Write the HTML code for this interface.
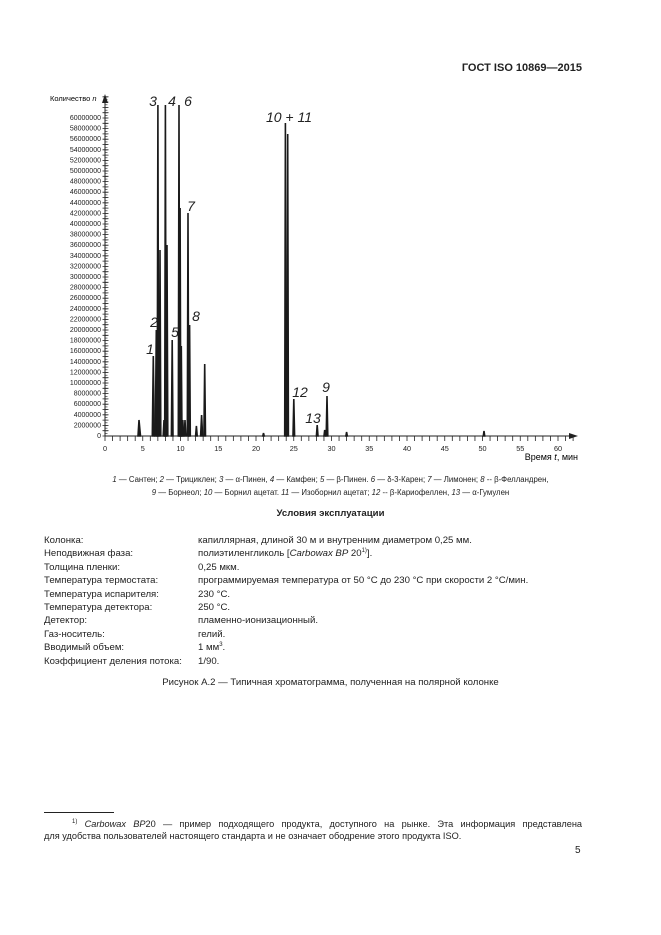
<!DOCTYPE html>
<html><head><meta charset="utf-8"><style>
body{margin:0;background:#fff;}
.p{position:relative;width:661px;height:935px;font-family:"Liberation Sans",sans-serif;color:#222;overflow:hidden}
.a{position:absolute;white-space:nowrap}
.r{font-size:9.6px;line-height:13.4px}
</style></head><body><div class="p">
<div class="a" style="right:79px;top:62px;font-size:11px;font-weight:bold">ГОСТ ISO 10869—2015</div>
<svg class="a" style="left:0;top:0" width="661" height="470" font-family="Liberation Sans, sans-serif">
<g stroke="#222" stroke-width="1" fill="none">
<line x1="105" y1="436" x2="105" y2="100"/>
<line x1="105" y1="436" x2="572" y2="436"/>
</g>
<line x1="105.5" y1="436.4" x2="105.5" y2="96" stroke="#222" stroke-width="6" stroke-dasharray="0.8 4.5"/>
<line x1="106" y1="433.75" x2="106" y2="96" stroke="#222" stroke-width="3" stroke-dasharray="0.6 2.05"/>
<line x1="104.6" y1="438.5" x2="575" y2="438.5" stroke="#222" stroke-width="5" stroke-dasharray="0.8 6.75"/>
<polygon points="105,94 102,103 108,103" fill="#222"/>
<polygon points="578,436 569,433 569,439" fill="#222"/>
<text x="50" y="101" font-size="7.5">Количество <tspan font-style="italic">n</tspan></text>
<g font-size="7" text-anchor="end" fill="#222">
<text x="101" y="438">0</text><text x="101" y="427.4">2000000</text><text x="101" y="416.8">4000000</text><text x="101" y="406.2">6000000</text><text x="101" y="395.6">8000000</text><text x="101" y="385">10000000</text><text x="101" y="374.4">12000000</text><text x="101" y="363.8">14000000</text><text x="101" y="353.2">16000000</text><text x="101" y="342.6">18000000</text><text x="101" y="332">20000000</text><text x="101" y="321.4">22000000</text><text x="101" y="310.8">24000000</text><text x="101" y="300.2">26000000</text><text x="101" y="289.6">28000000</text><text x="101" y="279">30000000</text><text x="101" y="268.4">32000000</text><text x="101" y="257.8">34000000</text><text x="101" y="247.2">36000000</text><text x="101" y="236.6">38000000</text><text x="101" y="226">40000000</text><text x="101" y="215.4">42000000</text><text x="101" y="204.8">44000000</text><text x="101" y="194.2">46000000</text><text x="101" y="183.6">48000000</text><text x="101" y="173">50000000</text><text x="101" y="162.4">52000000</text><text x="101" y="151.8">54000000</text><text x="101" y="141.2">56000000</text><text x="101" y="130.6">58000000</text><text x="101" y="120">60000000</text>
</g>
<g font-size="7.3" text-anchor="middle" fill="#222">
<text x="105" y="451">0</text><text x="142.75" y="451">5</text><text x="180.5" y="451">10</text><text x="218.25" y="451">15</text><text x="256" y="451">20</text><text x="293.75" y="451">25</text><text x="331.5" y="451">30</text><text x="369.25" y="451">35</text><text x="407" y="451">40</text><text x="444.75" y="451">45</text><text x="482.5" y="451">50</text><text x="520.25" y="451">55</text><text x="558" y="451">60</text>
</g>
<text x="578" y="460" font-size="9" text-anchor="end">Время <tspan font-style="italic">t</tspan>, мин</text>
<g stroke="#1a1a1a" stroke-width="1.6" fill="#1a1a1a">
<path d="M138,436L139,420L140.5,436Z"/>
<path d="M152.3,436L153.3,356L154.3,436Z"/>
<path d="M155.3,436L156.3,330L157.3,436Z"/>
<path d="M157.2,436L157.9,105L158.6,436Z"/>
<path d="M159.3,436L160,250L160.8,436Z"/>
<path d="M163.2,436L164,420L164.8,436Z"/>
<path d="M164.7,436L165.4,105L166.1,436Z"/>
<path d="M166.3,436L167,245L167.8,436Z"/>
<path d="M171.4,436L172.2,340L173,436Z"/>
<path d="M178.3,436L179,105L179.7,436Z"/>
<path d="M179.5,436L180.1,208L180.8,436Z"/>
<path d="M180.7,436L181.3,346L182,436Z"/>
<path d="M182,436L182.8,420L183.6,436Z"/>
<path d="M184.2,436L185,420L185.8,436Z"/>
<path d="M187.3,436L188,213L188.7,436Z"/>
<path d="M188.9,436L189.6,325L190.3,436Z"/>
<path d="M195.6,436L196.4,426L197.2,436Z"/>
<path d="M200.6,436L201.6,415L202.6,436Z"/>
<path d="M203.9,436L204.7,364L205.5,436Z"/>
<path d="M284.7,436L285.4,123L286.1,436Z"/>
<path d="M287,436L287.7,134L288.4,436Z"/>
<path d="M293,436L293.8,399L294.6,436Z"/>
<path d="M316.4,436L317.2,425L318,436Z"/>
<path d="M324,436L324.7,430L325.4,436Z"/>
<path d="M326.2,436L327,396L327.8,436Z"/>
<path d="M262.8,436L263.5,433L264.2,436Z"/>
<path d="M345.9,436L346.6,432L347.3,436Z"/>
<path d="M483.3,436L484,431L484.7,436Z"/>
</g>
<g font-size="14" font-style="italic" fill="#222" text-anchor="middle">
<text x="153" y="106">3</text><text x="172" y="106">4</text><text x="188" y="106">6</text>
<text x="191" y="211">7</text><text x="150" y="354">1</text><text x="154" y="327">2</text>
<text x="175" y="337">5</text><text x="196" y="321">8</text><text x="289" y="122">10 + 11</text>
<text x="300" y="397">12</text><text x="313" y="423">13</text><text x="326" y="392">9</text>
</g>
</svg>
<div class="a" style="left:0;width:661px;text-align:center;top:474px;font-size:7.8px;line-height:12.5px"><i>1</i> — Сантен; <i>2</i> — Трициклен; <i>3</i> — α-Пинен, <i>4</i> — Камфен; <i>5</i> — β-Пинен. <i>6</i> — δ-3-Карен; <i>7</i> — Лимонен; <i>8</i> -- β-Фелландрен,<br><i>9</i> — Борнеол; <i>10</i> — Борнил ацетат. <i>11</i> — Изоборнил ацетат; <i>12</i> -- β-Кариофеллен, <i>13</i> — α-Гумулен</div>
<div class="a" style="left:0;width:661px;text-align:center;top:508px;font-size:9.6px;font-weight:bold">Условия эксплуатации</div>
<div class="a r" style="left:44px;top:534px">Колонка:<br>Неподвижная фаза:<br>Толщина пленки:<br>Температура термостата:<br>Температура испарителя:<br>Температура детектора:<br>Детектор:<br>Газ-носитель:<br>Вводимый объем:<br>Коэффициент деления потока:</div>
<div class="a r" style="left:198px;top:534px">капиллярная, длиной 30 м и внутренним диаметром 0,25 мм.<br>полиэтиленгликоль [<i>Carbowax BP</i> 20<sup style="font-size:6px;line-height:0">1)</sup>].<br>0,25 мкм.<br>программируемая температура от 50 °С до 230 °С при скорости 2 °С/мин.<br>230 °С.<br>250 °С.<br>пламенно-ионизационный.<br>гелий.<br>1 мм<sup style="font-size:6px;line-height:0">3</sup>.<br>1/90.</div>
<div class="a" style="left:0;width:661px;text-align:center;top:677px;font-size:9.6px">Рисунок А.2 — Типичная хроматограмма, полученная на полярной колонке</div>
<div class="a" style="left:44px;top:812px;width:70px;border-top:1px solid #222"></div>
<div class="a" style="left:72px;top:816px;width:510px;font-size:9.2px;line-height:13.4px;white-space:normal;text-align:justify;text-align-last:justify"><sup style="font-size:6px">1)</sup> <i>Carbowax BP</i>20 — пример подходящего продукта, доступного на рынке. Эта информация представлена</div>
<div class="a" style="left:44px;top:830px;font-size:9.2px;line-height:13.4px">для удобства пользователей настоящего стандарта и не означает ободрение этого продукта ISO.</div>
<div class="a" style="left:575px;top:845px;font-size:10px">5</div>
</div></body></html>
